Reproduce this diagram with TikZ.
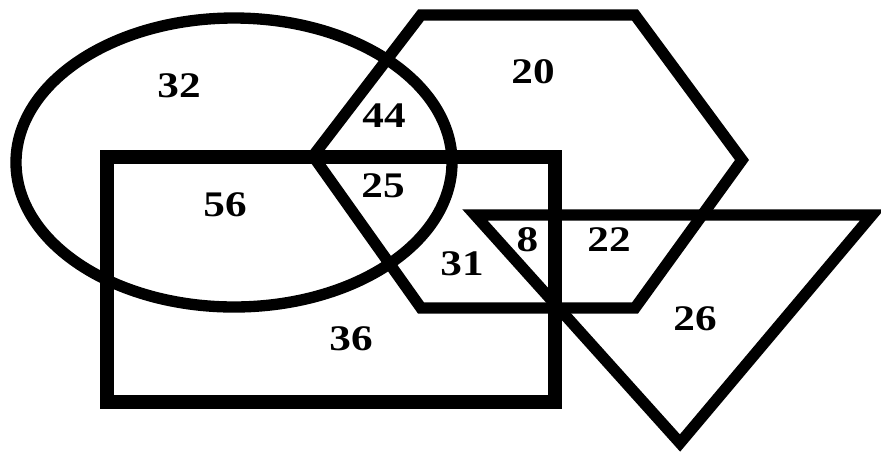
\documentclass[tikz,border=0pt]{standalone}
\usepackage{fontspec}
\setmainfont{Liberation Serif}[BoldFont={Liberation Serif Bold}]
\begin{document}
\begin{tikzpicture}[x=0.75pt,y=-0.75pt,
  shapeline/.style={draw=black,line width=8.5pt,line join=miter},
  rectline/.style={draw=black,line width=10pt,line join=miter},
  num/.style={inner sep=0pt,font=\fontsize{27}{27}\selectfont\bfseries,xscale=1.2,anchor=center}]
\useasboundingbox (0,0) rectangle (881,455);
% ellipse
\draw[shapeline] (234,162.5) ellipse [x radius=218, y radius=144.5];
% hexagon
\draw[shapeline] (421,15) -- (635,15) -- (742,160) -- (635,308) -- (421,308) -- (313,156) -- cycle;
% rectangle
\draw[rectline] (107,157) rectangle (555,402);
% triangle
\draw[shapeline] (475,215) -- (872,215) -- (680,443) -- cycle;
% labels
\node[num] (n32) at (179,86) {32};
\node[num] (n20) at (533,72) {20};
\node[num] (n44) at (384,116) {44};
\node[num] (n25) at (383,186) {25};
\node[num] (n56) at (225,205) {56};
\node[num] (n8) at (527.5,240) {8};
\node[num] (n22) at (609,240) {22};
\node[num] (n31) at (462,264) {31};
\node[num] (n26) at (695,319) {26};
\node[num] (n36) at (351,339) {36};
\end{tikzpicture}
\end{document}
